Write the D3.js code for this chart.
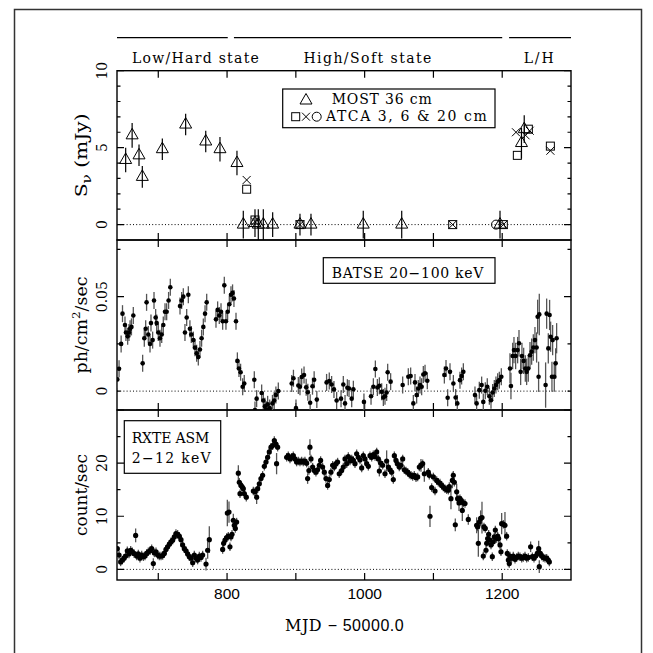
<!DOCTYPE html>
<html>
<head>
<meta charset="utf-8">
<script src="https://cdn.jsdelivr.net/npm/d3@7"></script>
<style>
body { margin: 0; background: #fff; }
.serif { font-family: "DejaVu Serif", "Liberation Serif", serif; }
.sans { font-family: "Liberation Sans", Arial, sans-serif; }
</style>
</head>
<body>
<svg id="chart" width="653" height="653"></svg>
<script>
// MJD - 50000 range and labels
const xDomain = [640, 1300];
const xTicks = [700, 800, 900, 1000, 1100, 1200];
const xTickLabels = [800, 1000, 1200];

// spectral state bars over the top panel
const stateNames = ["Low/Hard state", "High/Soft state", "L/H"];
const stateRanges = [[640, 801], [810, 1200], [1210, 1300]];
const stateLabelAt = [754, 1004, 1253];

// radio flux (mJy): [mjd, value, error]
const mostData = [
    [652.6, 4.2, 0.8], [662, 5.8, 0.8], [672, 4.5, 0.7], [676.8, 3.1, 0.7],
    [705.9, 4.9, 0.7], [739.8, 6.5, 0.7], [769, 5.4, 0.7], [789.7, 4.9, 0.8],
    [814.4, 4.0, 0.8], [823.6, 0, 0.9], [840.6, 0.1, 0.9], [845.4, 0, 1.0],
    [852.7, 0, 1.0], [866.3, 0, 0.8], [906, 0, 0.7], [922, 0, 0.7],
    [998, 0, 0.9], [1053.9, 0, 0.9], [1196.8, 0, 0.9], [1228, 5.3, 1.0],
    [1232, 6.2, 0.9]
];
const atca3cm = [
    [828.5, 2.3], [840.6, 0.3], [906, 0], [1128, 0], [1201.6, 0],
    [1222, 4.5], [1238, 6.2], [1270, 5.1]
];
const atca6cm = [
    [828.5, 2.9], [840.6, 0.2], [906, 0], [1128, 0], [1201.6, 0],
    [1220, 6.0], [1234, 5.8], [1240, 6.1], [1270, 4.8]
];
const atca20cm = [[1191, 0]];

// BATSE 20-100 keV (ph/cm2/sec): [mjd, value, error?]
const batseErr = 0.0045;
const batseData = [
    [640.5, 0.0062], [643, 0.0118], [646, 0.025], [648, 0.041], [651.6, 0.035], [653, 0.031],
    [655.5, 0.029], [657.4, 0.031], [659, 0.033], [661, 0.034], [663.7, 0.040],
    [677.3, 0.0147], [679.7, 0.028], [681.7, 0.033], [683, 0.047], [685.5, 0.030], [688, 0.025],
    [689.4, 0.036], [691.8, 0.027], [693.8, 0.048], [696.2, 0.039], [697.7, 0.036], [700, 0.031],
    [702.5, 0.028], [705, 0.030], [707.3, 0.035], [709.8, 0.042], [712.2, 0.042], [715, 0.048],
    [717.5, 0.055],
    [731.6, 0.045], [734, 0.048], [736.4, 0.050], [738.8, 0.031], [741.3, 0.039], [743.7, 0.051],
    [746, 0.033], [748, 0.030], [751, 0.027], [753.4, 0.023], [755.8, 0.020], [758.2, 0.018],
    [760.6, 0.022], [763, 0.028], [765.5, 0.034], [768, 0.041], [770.4, 0.047],
    [783.9, 0.038], [786.3, 0.043], [788.7, 0.040], [791.2, 0.042], [793.6, 0.037], [796, 0.056],
    [798.4, 0.037], [800.8, 0.042], [803.3, 0.046], [805.7, 0.051], [808, 0.052], [810, 0.049],
    [813, 0.037],
    [815, 0.016], [817.3, 0.012], [819.7, 0.010], [822.7, 0.0023], [825, 0.004],
    [839.6, 0.006], [840.6, -0.010], [843, -0.004], [850.3, -0.001], [852.7, -0.005], [855, -0.008],
    [856.6, -0.0097], [859, -0.007], [862, -0.009], [866, -0.0065], [868.5, -0.005], [871, -0.002],
    [874.5, 0.000],
    [894, 0.004], [896.5, 0.0068], [900.2, -0.009], [903.6, 0.003], [906, 0.0023], [908.5, 0.0075],
    [911.9, 0.0085], [915, 0.002], [917.4, -0.0006], [920.8, -0.0062], [924.2, 0.0026], [926.6, 0.006],
    [930.5, -0.0045],
    [944.7, 0.0046], [948.6, 0.0053], [952, 0.0035], [955.4, 0.0009], [959.3, -0.005],
    [965.7, -0.004], [969, 0.0035], [971.5, -0.0065], [974.9, 0.0018], [977.3, 0.0014],
    [981.2, -0.004], [983.6, 0.001],
    [999, -0.0057], [1009.3, -0.0027], [1012.7, 0.0023], [1015.6, 0.0117], [1018.5, 0.0019],
    [1021.4, 0.0028], [1024.8, -0.0004], [1027.2, -0.0034], [1029.6, -0.0027], [1032, -0.0007],
    [1033.5, 0.010], [1037.8, 0.005],
    [1055.3, 0.0032], [1063.5, 0.0076], [1066.9, 0.008], [1070.8, -0.0065], [1073.2, 0.0046],
    [1075.6, -0.0021], [1078, 0.0014], [1080.5, 0.0032], [1082.9, 0.0023], [1085.3, 0.0088],
    [1087.8, 0.0094], [1091.1, 0.0055],
    [1115.9, 0.0085], [1118.3, 0.012], [1120.7, -0.0035], [1124.1, 0.0102], [1129, 0.004],
    [1132.3, -0.0034], [1134.7, -0.0065], [1138.6, 0.0058], [1141, 0.008], [1143.5, 0.0102],
    [1160.4, -0.0021], [1162.8, -0.0065], [1166.7, 0.0005], [1170.1, 0.0032], [1172.5, -0.0057],
    [1175.4, 0.0002], [1178.3, 0.0023], [1181.3, -0.0027], [1183.7, -0.0048], [1186.1, -0.0007],
    [1188.5, 0.0014], [1190.9, 0.0032], [1193.4, 0.005], [1195.8, 0.0058], [1198.7, 0.0076],
    [1211.3, 0.012, 0.008], [1212.7, 0.0027, 0.007], [1215.2, 0.0186, 0.007], [1217.1, 0.0217, 0.007],
    [1219.5, 0.0186, 0.007], [1222.4, 0.0217, 0.007], [1224.4, 0.0253, 0.007], [1226.8, 0.0102, 0.007],
    [1228.7, 0.0186, 0.007], [1231.2, 0.016, 0.007], [1233.6, 0.012, 0.007], [1235.5, 0.0102, 0.007],
    [1237.9, 0.012, 0.007], [1240.4, 0.019, 0.007], [1242.8, 0.0209, 0.007], [1245.2, 0.0231, 0.007],
    [1247.6, 0.027, 0.007], [1250, 0.0231, 0.008], [1251.5, 0.0394, 0.009], [1252.9, 0.0076, 0.008],
    [1253.9, 0.0406, 0.011], [1263.1, 0.0032, 0.012], [1264.6, 0.041, 0.008], [1267, 0.0226, 0.008],
    [1268.9, 0.0403, 0.008], [1270.4, 0.0288, 0.008], [1272.3, 0.0076, 0.008], [1273.3, 0.027, 0.008],
    [1275.7, 0.0076, 0.008], [1277.7, 0.0147, 0.008], [1279.1, 0.028, 0.008]
];

// RXTE ASM 2-12 keV (count/sec): [mjd, value, error?]
const asmErr = 0.8;
const asmData = [
    [640.5, 3.9], [643, 2.7], [645.3, 1.4], [647.8, 1.75], [650.2, 2.1], [652.6, 2.5], [655, 3.5],
    [657.4, 2.9], [659.9, 3.6], [662.3, 3.3], [664.7, 3.0], [667.1, 6.4, 1.3], [668.6, 2.5],
    [671, 2.9], [673.4, 2.1], [675.9, 2.7], [678.3, 2.4], [680.7, 2.5], [683.1, 3.0], [685.5, 3.3],
    [688, 3.5], [690.4, 3.9], [692.8, 1.1, 1.0], [694.3, 3.1], [696.7, 3.3], [699.1, 2.7],
    [701.5, 2.5], [704, 2.5], [706.4, 2.6], [708.8, 3.0], [711.2, 3.75], [713.6, 4.25], [716.1, 4.75],
    [718.5, 5.2], [720.9, 5.5], [723.3, 6.1], [725.7, 6.75], [728.2, 6.6], [730.6, 6.25], [733, 5.6],
    [735.4, 4.6], [737.9, 3.9], [740.3, 3.5], [742.7, 2.9], [745.1, 2.4], [747.6, 2.1], [750, 1.25],
    [752.4, 2.7], [754.8, 2.1], [757.2, 1.75], [759.7, 2.5], [762.1, 2.25], [764.5, 2.7],
    [769.4, 1.0, 1.2], [771.8, 3.6, 1.6], [774.2, 5.6, 2.5],
    [793.6, 3.75], [795, 4.9], [797, 5.5], [799.4, 6.0], [800.4, 10.6, 2.5], [801.8, 6.25],
    [802.8, 10.8, 2.0], [804.2, 4.25], [805.7, 6.1], [807.2, 6.6], [809.1, 9.25, 1.2], [810.5, 8.3],
    [812, 7.7], [813.9, 8.9], [816.4, 18.1, 1.5], [817.8, 16.4], [818.8, 14.25], [820.2, 15.8],
    [822.2, 15.5], [823.6, 15.2], [825.1, 14.25], [828, 13.6],
    [838.2, 14.75], [840.6, 14.6], [843, 13.6, 1.3], [844.5, 15.2], [846.9, 16.1], [849.3, 17.1],
    [851.7, 17.7], [854.2, 19.4], [856.6, 20.2], [859, 21.1], [861.4, 22.1], [863.9, 23.0],
    [866.3, 23.3], [868.7, 24.25], [871.1, 23.6], [872, 19.9, 2.0], [873.5, 23.0],
    [886.6, 21.1], [889, 21.4], [891.5, 20.8], [893.9, 21.1], [896.3, 21.4], [898.7, 20.8],
    [901.1, 20.2], [903.6, 20.4], [906, 20.2], [908.4, 20.4], [910.8, 20.2], [913.2, 20.4],
    [915.7, 20.0], [917.1, 17.1, 1.0], [919, 18.6], [920.5, 23.0, 1.5], [922, 20.8], [924.4, 19.25],
    [926.8, 18.6], [929.2, 18.3], [931.6, 18.75], [934.1, 19.6], [936, 20.5], [938.9, 19.25],
    [941.4, 18.3], [943.8, 17.1], [946.2, 15.8], [948.6, 16.9], [951, 18.3], [953.5, 19.6],
    [955.9, 19.25], [958.3, 19.9], [960.7, 20.2], [963.1, 18.0],
    [966.6, 18.6], [969, 19.25], [971.5, 20.8], [973.9, 19.9], [976.3, 21.25], [978.7, 20.4],
    [981.2, 20.8], [983.6, 20.5], [986, 19.9], [988.4, 21.75], [990.8, 21.1], [993.3, 20.6],
    [995.7, 19.1], [998.1, 21.4], [1000.5, 20.8], [1003, 19.9], [1005.4, 19.4], [1007.8, 21.4],
    [1010.2, 21.1], [1012.6, 21.6], [1015.1, 21.25], [1017.5, 22.1], [1019.9, 20.8],
    [1021.4, 18.5, 1.0], [1023.3, 20.0], [1026.2, 19.6], [1029.6, 18.0], [1032, 20.4, 2.0],
    [1034.5, 19.25], [1036.9, 18.75], [1039.3, 18.3], [1041.7, 16.9], [1043.2, 21.4], [1045.6, 20.5],
    [1047.5, 19.9], [1050.4, 19.25], [1052.9, 19.6], [1055.3, 20.8], [1057.7, 18.75], [1060.1, 18.5],
    [1062.6, 18.3], [1065, 17.9], [1067.4, 17.7], [1069.8, 17.5], [1072.2, 17.7], [1074.7, 17.25],
    [1077.1, 17.4], [1079.5, 19.25], [1081.9, 19.6, 1.2], [1084.4, 19.9], [1086.8, 18.0, 1.5],
    [1092.6, 18.3], [1094, 17.7], [1095, 10.0, 2.0], [1097.4, 15.4], [1099.9, 17.4], [1102.3, 14.75],
    [1104.7, 16.75], [1107.1, 16.4], [1109.5, 16.25], [1112, 15.8], [1114.4, 15.5], [1116.8, 15.2],
    [1119.2, 15.0], [1121.7, 14.9], [1123.1, 15.6], [1125.5, 13.3, 2.0], [1127.5, 16.75, 1.5],
    [1128.9, 17.7], [1130.4, 16.4], [1131.8, 8.4, 1.2], [1133.8, 14.6, 1.5], [1135.2, 13.3],
    [1137.2, 12.5, 1.5], [1138.6, 13.3], [1140.1, 13.0], [1142, 11.1, 2.0], [1143.5, 12.5],
    [1145.9, 12.4], [1150.7, 9.4, 1.0],
    [1162.8, 8.3, 1.5], [1164.3, 8.0], [1165.3, 4.9, 2.5], [1166.7, 8.9], [1168.6, 9.6, 1.5],
    [1170.6, 9.75, 3.0], [1172.5, 2.5], [1173.5, 8.0], [1175.4, 7.7], [1176.4, 3.6], [1177.4, 4.9],
    [1178.8, 5.8], [1180.3, 6.6], [1182.2, 5.5], [1183.7, 4.6], [1185.6, 2.4], [1187.1, 5.2],
    [1188.5, 6.1], [1190, 7.4], [1191.9, 5.8], [1193.4, 6.25], [1194.8, 5.8], [1196.8, 4.6],
    [1198.2, 3.3], [1199.2, 8.6, 2.0], [1201.6, 8.5], [1204, 8.3, 2.5], [1206.4, 6.25],
    [1207.4, 3.0], [1208.9, 1.75, 1.2], [1210.3, 1.1], [1211.3, 2.5], [1213.7, 2.1], [1216.1, 2.5],
    [1218.6, 1.9], [1221, 2.25], [1223.4, 2.5], [1225.8, 2.4], [1228.3, 2.1], [1230.7, 2.25],
    [1233.1, 2.5], [1235.5, 2.1], [1238, 2.25], [1241.3, 4.25, 1.0], [1243.8, 2.4], [1246.2, 2.1],
    [1248.6, 2.5], [1251, 3.0], [1253, 3.9, 1.5], [1253.9, 0.5, 1.2], [1255.4, 3.0], [1257.3, 2.5],
    [1259.7, 2.25], [1262.2, 2.1], [1264.6, 2.1], [1267, 1.75], [1268.5, 1.4]
];

// y axis tick marks and labels for each panel
const radioTicks = d3.range(0, 11, 1);
const radioTickLabels = [0, 5, 10];
const batseTicks = [0, 0.025, 0.05, 0.075];
const batseTickLabels = [0, 0.05];
const asmTicks = d3.range(0, 31, 5);
const asmTickLabels = [0, 10, 20];

const svg = d3.select("#chart");
svg.append("rect").attr("width", 653).attr("height", 653).attr("fill", "#fff");

// outer page frame
svg.append("rect")
    .attr("x", 14.5).attr("y", 9.5)
    .attr("width", 627).attr("height", 680)
    .attr("fill", "none").attr("stroke", "#333").attr("stroke-width", 1.5);

const plotLeft = 117, plotRight = 571;
const x = d3.scaleLinear().domain(xDomain).range([plotLeft, plotRight]);

const panels = [
    {id: "radio", top: 70.7, bottom: 240, domain: [-1, 10], ticks: radioTicks, labels: radioTickLabels, major: v => v % 5 === 0},
    {id: "batse", top: 240, bottom: 410, domain: [-0.01, 0.08], ticks: batseTicks, labels: batseTickLabels, major: v => v === 0.05},
    {id: "asm", top: 410, bottom: 580, domain: [-2, 30], ticks: asmTicks, labels: asmTickLabels, major: v => v % 10 === 0}
];

function drawPanel(p) {
    p.y = d3.scaleLinear().domain(p.domain).range([p.bottom, p.top]);
    const g = svg.append("g");

    svg.append("clipPath").attr("id", `clip-${p.id}`)
        .append("rect")
        .attr("x", plotLeft).attr("y", p.top)
        .attr("width", plotRight - plotLeft).attr("height", p.bottom - p.top);

    // zero level
    g.append("line")
        .attr("x1", plotLeft).attr("x2", plotRight)
        .attr("y1", p.y(0)).attr("y2", p.y(0))
        .attr("stroke", "#000").attr("stroke-width", 1)
        .attr("stroke-dasharray", "1,2.2");

    // x ticks on top and bottom edges
    g.selectAll(".xt").data(xTicks).enter().append("path")
        .attr("d", d => `M${x(d)},${p.top}v7M${x(d)},${p.bottom}v-7`)
        .attr("stroke", "#000").attr("stroke-width", 1.2);

    // y ticks on left and right edges
    g.selectAll(".yt").data(p.ticks).enter().append("path")
        .attr("d", d => {
            const len = p.major(d) ? 7 : 3.5;
            return `M${plotLeft},${p.y(d)}h${len}M${plotRight},${p.y(d)}h${-len}`;
        })
        .attr("stroke", "#000").attr("stroke-width", 1.2);

    // rotated y tick labels
    g.selectAll(".yl").data(p.labels).enter().append("text")
        .attr("class", "serif")
        .attr("transform", d => `translate(107,${p.y(d)}) rotate(-90)`)
        .attr("text-anchor", "middle")
        .attr("font-size", 14)
        .text(d => d);

    g.append("rect")
        .attr("x", plotLeft).attr("y", p.top)
        .attr("width", plotRight - plotLeft).attr("height", p.bottom - p.top)
        .attr("fill", "none").attr("stroke", "#000").attr("stroke-width", 1.4);
}

panels.forEach(drawPanel);
const [radio, batse, asm] = panels;

// y axis titles
function yTitle(p, length) {
    return svg.append("text")
        .attr("class", "serif")
        .attr("transform", `translate(86.5,${(p.top + p.bottom) / 2}) rotate(-90)`)
        .attr("text-anchor", "middle")
        .attr("font-size", 16)
        .attr("textLength", length)
        .attr("lengthAdjust", "spacingAndGlyphs");
}
const t1 = yTitle(radio, 84);
t1.append("tspan").text("S");
t1.append("tspan").attr("dy", 4).attr("font-size", 12).text("ν");
t1.append("tspan").attr("dy", -4).text(" (mJy)");
const t2 = yTitle(batse, 97);
t2.append("tspan").text("ph/cm");
t2.append("tspan").attr("dy", -7).attr("font-size", 11).text("2");
t2.append("tspan").attr("dy", 7).text("/sec");
yTitle(asm, 82).text("count/sec");

// x axis labels
svg.selectAll(".xl").data(xTickLabels).enter().append("text")
    .attr("class", "sans")
    .attr("x", d => x(d)).attr("y", 599)
    .attr("text-anchor", "middle")
    .attr("font-size", 15.5)
    .text(d => d);

const xTitle = svg.append("text")
    .attr("x", 285).attr("y", 631)
    .attr("textLength", 118.7);
xTitle.append("tspan").attr("class", "serif").attr("font-size", 16).text("MJD ");
xTitle.append("tspan").attr("class", "sans").attr("font-size", 16).text(" \u2212  50000.0");

// state bars and names
svg.selectAll(".sbar").data(stateRanges).enter().append("line")
    .attr("x1", d => x(d[0])).attr("x2", d => x(d[1]))
    .attr("y1", 37.7).attr("y2", 37.7)
    .attr("stroke", "#000").attr("stroke-width", 1.2);
svg.selectAll(".sname").data(stateNames).enter().append("text")
    .attr("class", "serif")
    .attr("x", (d, i) => x(stateLabelAt[i])).attr("y", 62.5)
    .attr("text-anchor", "middle")
    .attr("font-size", 14)
    .attr("textLength", (d, i) => [127, 128, 30][i])
    .text(d => d);

// radio panel
const rg = svg.append("g").attr("clip-path", "url(#clip-radio)");
const triPath = "M0,-7L6,3.5L-6,3.5Z";
const crossPath = "M-4,-4L4,4M-4,4L4,-4";

rg.selectAll(".mostErr").data(mostData).enter().append("line")
    .attr("x1", d => x(d[0])).attr("x2", d => x(d[0]))
    .attr("y1", d => radio.y(d[1] - d[2])).attr("y2", d => radio.y(d[1] + d[2]))
    .attr("stroke", "#000").attr("stroke-width", 1.2);
rg.selectAll(".most").data(mostData).enter().append("path")
    .attr("transform", d => `translate(${x(d[0])},${radio.y(d[1])})`)
    .attr("d", triPath)
    .attr("fill", "none").attr("stroke", "#000").attr("stroke-width", 1);
rg.selectAll(".a3").data(atca3cm).enter().append("rect")
    .attr("x", d => x(d[0]) - 4).attr("y", d => radio.y(d[1]) - 4)
    .attr("width", 8).attr("height", 8)
    .attr("fill", "none").attr("stroke", "#000").attr("stroke-width", 1);
rg.selectAll(".a6").data(atca6cm).enter().append("path")
    .attr("transform", d => `translate(${x(d[0])},${radio.y(d[1])})`)
    .attr("d", crossPath)
    .attr("stroke", "#000").attr("stroke-width", 1);
rg.selectAll(".a20").data(atca20cm).enter().append("circle")
    .attr("cx", d => x(d[0])).attr("cy", d => radio.y(d[1])).attr("r", 4.5)
    .attr("fill", "none").attr("stroke", "#000").attr("stroke-width", 1);

// radio legend
svg.append("rect")
    .attr("x", 282.7).attr("y", 89).attr("width", 212.3).attr("height", 38.7)
    .attr("fill", "#fff").attr("stroke", "#000").attr("stroke-width", 1.2);
svg.append("path").attr("transform", "translate(306,100.5)").attr("d", triPath)
    .attr("fill", "none").attr("stroke", "#000");
svg.append("rect").attr("x", 291.7).attr("y", 112.7).attr("width", 8).attr("height", 8)
    .attr("fill", "none").attr("stroke", "#000");
svg.append("path").attr("transform", "translate(306,116.7)").attr("d", crossPath)
    .attr("stroke", "#000");
svg.append("circle").attr("cx", 316.7).attr("cy", 116.7).attr("r", 4.5)
    .attr("fill", "none").attr("stroke", "#000");
svg.append("text").attr("class", "serif").attr("x", 331.7).attr("y", 103.5)
    .attr("font-size", 14).attr("textLength", 100).text("MOST 36 cm");
svg.append("text").attr("class", "serif").attr("x", 326).attr("y", 121)
    .attr("font-size", 14).attr("textLength", 160.7).text("ATCA 3, 6 & 20 cm");

// points with error bars
function drawSeries(p, data, defaultErr, radius) {
    const g = svg.append("g").attr("clip-path", `url(#clip-${p.id})`);
    g.selectAll(".err").data(data).enter().append("line")
        .attr("x1", d => x(d[0])).attr("x2", d => x(d[0]))
        .attr("y1", d => p.y(d[1] - (d[2] ?? defaultErr)))
        .attr("y2", d => p.y(d[1] + (d[2] ?? defaultErr)))
        .attr("stroke", "#555").attr("stroke-width", 1.3);
    g.selectAll(".pt").data(data).enter().append("circle")
        .attr("cx", d => x(d[0])).attr("cy", d => p.y(d[1]))
        .attr("r", radius)
        .attr("fill", "#000");
}
drawSeries(batse, batseData, batseErr, 2.3);
drawSeries(asm, asmData, asmErr, 2.6);

// panel captions
svg.append("rect")
    .attr("x", 323.3).attr("y", 257.7).attr("width", 171.7).attr("height", 25.6)
    .attr("fill", "#fff").attr("stroke", "#000").attr("stroke-width", 1.2);
svg.append("text").attr("class", "serif").attr("x", 331.7).attr("y", 278)
    .attr("font-size", 14).attr("textLength", 151.7).text("BATSE 20\u2212100 keV");

svg.append("rect")
    .attr("x", 124.3).attr("y", 420.7).attr("width", 96.4).attr("height", 52.6)
    .attr("fill", "#fff").attr("stroke", "#000").attr("stroke-width", 1.2);
svg.append("text").attr("class", "serif").attr("x", 131.7).attr("y", 442.7)
    .attr("font-size", 14).attr("textLength", 77.7).text("RXTE ASM");
svg.append("text").attr("class", "serif").attr("x", 131.7).attr("y", 463.3)
    .attr("font-size", 14).attr("textLength", 79).text("2\u221212 keV");
</script>
</body>
</html>
